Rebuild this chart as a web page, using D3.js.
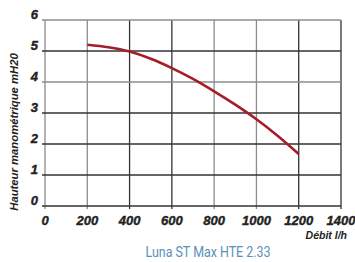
<!DOCTYPE html>
<html>
<head>
<meta charset="utf-8">
<script src="https://d3js.org/d3.v7.min.js"></script>
<style>
  body { margin: 0; background: #fff; }
  .tick-lbl { font-family: "Liberation Sans Narrow", "Liberation Sans", sans-serif; font-weight: bold; font-style: italic; font-size: 13px; fill: #222; stroke: #222; stroke-width: 0.4px; }
  .ax-title { font-family: "Liberation Sans Narrow", "Liberation Sans", sans-serif; font-weight: bold; font-style: italic; font-size: 10.5px; fill: #222; }
</style>
</head>
<body>
<div id="chartDiv"></div>
<script>
// debit (l/h) and head (mH2O)
var debit = [200, 300, 400, 500, 600, 700, 800, 900, 1000, 1100, 1200];
var hauteur = [5.2, 5.12, 4.98, 4.75, 4.45, 4.1, 3.7, 3.27, 2.8, 2.27, 1.68];
var xTicks = [0, 200, 400, 600, 800, 1000, 1200, 1400];
var yTicks = [0, 1, 2, 3, 4, 5, 6];
var title = "Luna ST Max HTE 2.33";

var W = 355, H = 262;
var margin = {top: 20, right: 14, bottom: 56, left: 45};
var width = W - margin.left - margin.right;
var height = H - margin.top - margin.bottom;

var svg = d3.select('#chartDiv').append('svg')
  .attr('width', W).attr('height', H);

var main = svg.append('g')
  .attr('transform', 'translate(' + margin.left + ',' + margin.top + ')');

var x = d3.scaleLinear().domain([0, 1400]).range([0, width]);
var y = d3.scaleLinear().domain([0, 6]).range([height, 0]);

// grid lines (scanned look: some darker, some grey)
var grey = '#8c8c8c', dark = '#333';
main.selectAll('.vgrid').data(xTicks).enter().append('line')
  .attr('x1', function(d) { return x(d); }).attr('x2', function(d) { return x(d); })
  .attr('y1', 0).attr('y2', height + 3)
  .attr('stroke', function(d) { return (d == 0 || d == 200 || d == 800 || d == 1000) ? grey : dark; })
  .attr('stroke-width', 1.3);

main.selectAll('.hgrid').data(yTicks).enter().append('line')
  .attr('x1', -3).attr('x2', width)
  .attr('y1', function(d) { return y(d); }).attr('y2', function(d) { return y(d); })
  .attr('stroke', function(d) { return (d == 4 || d == 6) ? grey : dark; })
  .attr('stroke-width', 1.3);

// tick labels
main.selectAll('.xl').data(xTicks).enter().append('text')
  .attr('class', 'tick-lbl')
  .attr('x', function(d) { return x(d); })
  .attr('y', height + 19)
  .attr('text-anchor', 'middle')
  .text(function(d) { return d; });

main.selectAll('.yl').data(yTicks).enter().append('text')
  .attr('class', 'tick-lbl')
  .attr('x', -7)
  .attr('y', function(d) { return y(d) - 1; })
  .attr('text-anchor', 'end')
  .text(function(d) { return d; });

// axis titles
main.append('text')
  .attr('class', 'ax-title')
  .attr('x', width + 6)
  .attr('y', height + 33)
  .attr('text-anchor', 'end')
  .text('Débit l/h');

main.append('text')
  .attr('class', 'ax-title')
  .attr('transform', 'rotate(-90)')
  .attr('x', -112)
  .attr('y', -27)
  .attr('text-anchor', 'middle')
  .style('font-size', '11.3px')
  .text('Hauteur manométrique mH20');

// pump curve
var line = d3.line()
  .x(function(d, i) { return x(debit[i]); })
  .y(function(d) { return y(d); })
  .curve(d3.curveMonotoneX);

main.append('path')
  .datum(hauteur)
  .attr('d', line)
  .attr('fill', 'none')
  .attr('stroke', '#a51d26')
  .attr('stroke-width', 2.6);

// caption
svg.append('text')
  .attr('x', 208)
  .attr('y', 257)
  .attr('text-anchor', 'middle')
  .attr('textLength', 125)
  .attr('lengthAdjust', 'spacingAndGlyphs')
  .style('font-family', 'Roboto, sans-serif')
  .style('font-size', '15px')
  .style('fill', '#5a8fb8')
  .text(title);
</script>
</body>
</html>
